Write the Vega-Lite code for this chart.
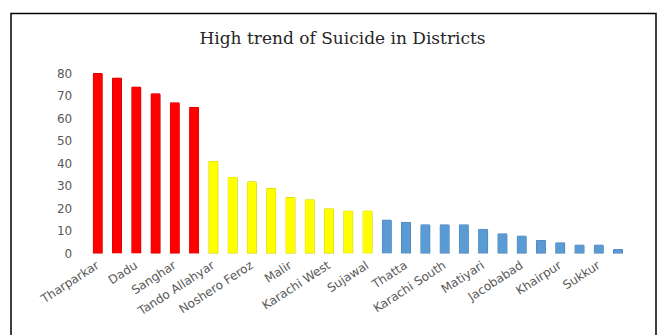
{
  "$schema": "https://vega.github.io/schema/vega-lite/v6.json",
  "autosize": "none",
  "width": 645,
  "height": 331.5,
  "padding": {"left": 11, "top": 13.5, "right": 1, "bottom": -10},
  "background": "white",
  "config": {
    "view": {"stroke": "black", "strokeWidth": 1.5},
    "axis": {"grid": false, "domain": false, "ticks": false, "tickSize": 0,
             "labelFont": "DejaVu Sans", "labelColor": "#595959", "labelFontSize": 12}
  },
  "title": {
    "text": "High trend of Suicide in Districts",
    "font": "DejaVu Serif",
    "fontSize": 17,
    "fontWeight": "normal",
    "color": "#262626",
    "anchor": "middle",
    "frame": "group",
    "baseline": "alphabetic",
    "offset": -47,
    "dx": 9
  },
  "data": {
    "values": [
      {"district": "Tharparkar", "cases": 80, "group": "high"},
      {"district": "Umerkot", "cases": 78, "group": "high"},
      {"district": "Dadu", "cases": 74, "group": "high"},
      {"district": "Mirpurkhas", "cases": 71, "group": "high"},
      {"district": "Sanghar", "cases": 67, "group": "high"},
      {"district": "Badin", "cases": 65, "group": "high"},
      {"district": "Tando Allahyar", "cases": 41, "group": "medium"},
      {"district": "Jamshoro", "cases": 34, "group": "medium"},
      {"district": "Noshero Feroz", "cases": 32, "group": "medium"},
      {"district": "Hyderabad", "cases": 29, "group": "medium"},
      {"district": "Malir", "cases": 25, "group": "medium"},
      {"district": "Karachi East", "cases": 24, "group": "medium"},
      {"district": "Karachi West", "cases": 20, "group": "medium"},
      {"district": "Korangi", "cases": 19, "group": "medium"},
      {"district": "Sujawal", "cases": 19, "group": "medium"},
      {"district": "Karachi Central", "cases": 15, "group": "low"},
      {"district": "Thatta", "cases": 14, "group": "low"},
      {"district": "Shikarpur", "cases": 13, "group": "low"},
      {"district": "Karachi South", "cases": 13, "group": "low"},
      {"district": "Larkana", "cases": 13, "group": "low"},
      {"district": "Matiyari", "cases": 11, "group": "low"},
      {"district": "Ghotki", "cases": 9, "group": "low"},
      {"district": "Jacobabad", "cases": 8, "group": "low"},
      {"district": "Kashmore", "cases": 6, "group": "low"},
      {"district": "Khairpur", "cases": 5, "group": "low"},
      {"district": "Kambar Shahdadkot", "cases": 4, "group": "low"},
      {"district": "Sukkur", "cases": 4, "group": "low"},
      {"district": "Tando Muhammad Khan", "cases": 2, "group": "low"}
    ]
  },
  "mark": {"type": "bar", "strokeWidth": 0.8, "cornerRadiusTopLeft": 1.5, "cornerRadiusTopRight": 1.5},
  "encoding": {
    "x": {
      "field": "district",
      "type": "nominal",
      "sort": null,
      "title": null,
      "scale": {"paddingInner": 0.48, "paddingOuter": 0, "range": [81.7, 612]},
      "axis": {
        "orient": "bottom",
        "offset": -91.5,
        "labelAngle": -33,
        "labelAlign": "right",
        "labelBaseline": "middle",
        "labelPadding": 10,
        "labelOverlap": false,
        "labelExpr": "indexof(['Tharparkar','Dadu','Sanghar','Tando Allahyar','Noshero Feroz','Malir','Karachi West','Sujawal','Thatta','Karachi South','Matiyari','Jacobabad','Khairpur','Sukkur'], datum.value) >= 0 ? datum.value : ''"
      }
    },
    "y": {
      "field": "cases",
      "type": "quantitative",
      "title": null,
      "scale": {"domain": [-40.6, 106.4], "nice": false, "zero": false},
      "axis": {
        "values": [0, 10, 20, 30, 40, 50, 60, 70, 80],
        "offset": -60.7,
        "labelPadding": 0
      }
    },
    "color": {
      "field": "group",
      "type": "nominal",
      "legend": null,
      "scale": {"domain": ["high", "medium", "low"], "range": ["#FF0000", "#FFFF00", "#5B9BD5"]}
    },
    "stroke": {
      "field": "group",
      "type": "nominal",
      "legend": null,
      "scale": {"domain": ["high", "medium", "low"], "range": ["#C00000", "#BDBD00", "#41719C"]}
    }
  }
}
